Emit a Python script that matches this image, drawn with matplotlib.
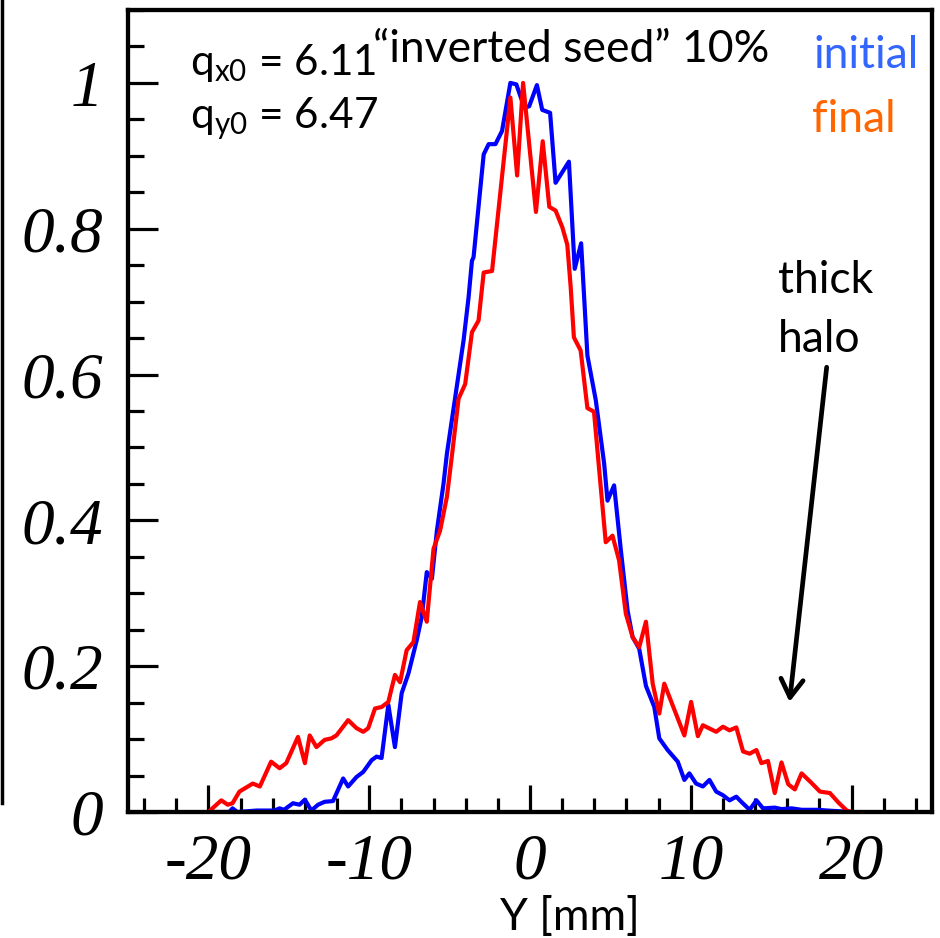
import numpy as np
import matplotlib.pyplot as plt
from matplotlib.lines import Line2D
from matplotlib.ticker import MultipleLocator, FormatStrFormatter
plt.rcParams.update({'font.size': 30})
plt.rcParams['axes.unicode_minus'] = False
plt.rcParams['mathtext.fontset'] = 'custom'
plt.rcParams['mathtext.rm'] = 'Lato'
plt.rcParams['mathtext.it'] = 'Lato'

# =============================================================================
# data (Y in mm, normalised intensity)
# =============================================================================
y_initial = [-20.0, -18.7, -18.5, -18.2, -17.0, -15.9, -15.57, -15.3, -14.74, -14.33,
             -14.0, -13.6, -13.18, -12.77, -12.25, -11.62, -11.31, -10.79, -10.37, -9.85,
             -9.54, -9.23, -8.81, -8.4, -7.98, -7.56, -7.04, -6.73, -6.42, -6.1,
             -5.79, -5.38, -5.17, -4.65, -4.13, -3.82, -3.61, -3.51, -2.88, -2.57,
             -2.15, -1.74, -1.22, -0.85, -0.35, -0.05, 0.43, 0.76, 1.25, 1.59,
             2.42, 2.78, 3.18, 3.57, 4.09, 4.61, 4.82, 5.23, 5.65, 6.07,
             6.38, 6.79, 7.21, 7.73, 8.04, 8.56, 9.19, 9.6, 9.91, 10.33,
             10.75, 11.16, 11.58, 12.0, 12.41, 12.83, 13.14, 13.66, 14.08, 14.49,
             15.22, 15.64, 16.27, 16.9, 17.9, 18.5, 20.0]
n_initial = [0.0, 0.0, 0.005, 0.0, 0.002, 0.002, 0.005, 0.003, 0.012, 0.010,
             0.017, 0.002, 0.010, 0.014, 0.015, 0.046, 0.035, 0.048, 0.055, 0.071,
             0.076, 0.074, 0.147, 0.089, 0.163, 0.190, 0.236, 0.268, 0.329, 0.320,
             0.386, 0.450, 0.491, 0.569, 0.647, 0.706, 0.756, 0.761, 0.902, 0.916,
             0.916, 0.934, 1.0, 0.998, 0.966, 0.968, 0.997, 0.963, 0.959, 0.863,
             0.892, 0.745, 0.780, 0.626, 0.565, 0.478, 0.427, 0.448, 0.359, 0.276,
             0.240, 0.224, 0.173, 0.144, 0.101, 0.085, 0.069, 0.044, 0.053, 0.039,
             0.035, 0.044, 0.028, 0.023, 0.016, 0.021, 0.014, 0.003, 0.016, 0.005,
             0.006, 0.004, 0.005, 0.003, 0.003, 0.002, 0.0]

y_final = [-20.0, -19.2, -18.8, -18.5, -18.07, -17.24, -16.8, -16.1, -15.57, -15.16,
           -14.43, -14.0, -13.7, -13.28, -12.77, -12.35, -12.04, -11.31, -10.79, -10.37,
           -10.06, -9.64, -9.23, -8.81, -8.4, -8.08, -7.67, -7.25, -6.84, -6.42,
           -6.0, -5.59, -5.17, -4.85, -4.44, -4.03, -3.61, -3.2, -2.88, -2.36,
           -1.22, -0.8, -0.43, 0.37, 0.79, 1.2, 1.59, 2.01, 2.32, 2.53,
           2.73, 3.15, 3.57, 3.98, 4.3, 4.71, 5.13, 5.54, 5.96, 6.38,
           6.79, 7.21, 7.63, 8.04, 8.35, 9.6, 10.02, 10.44, 10.75, 11.58,
           12.0, 12.41, 12.83, 13.25, 13.66, 14.08, 14.39, 14.8, 15.22, 15.64,
           16.06, 16.47, 16.89, 17.5, 18.03, 18.65, 19.18, 19.7, 20.0]
n_final = [0.0, 0.016, 0.010, 0.012, 0.028, 0.039, 0.035, 0.069, 0.060, 0.067,
           0.103, 0.067, 0.105, 0.089, 0.099, 0.101, 0.105, 0.126, 0.115, 0.110,
           0.115, 0.142, 0.144, 0.151, 0.188, 0.178, 0.222, 0.233, 0.288, 0.261,
           0.361, 0.386, 0.432, 0.490, 0.567, 0.587, 0.658, 0.674, 0.740, 0.742,
           0.980, 0.873, 1.0, 0.823, 0.920, 0.830, 0.825, 0.802, 0.778, 0.720,
           0.651, 0.633, 0.554, 0.549, 0.470, 0.370, 0.379, 0.345, 0.272, 0.240,
           0.226, 0.261, 0.176, 0.135, 0.176, 0.105, 0.151, 0.104, 0.119, 0.110,
           0.117, 0.112, 0.116, 0.083, 0.080, 0.085, 0.067, 0.070, 0.026, 0.068,
           0.038, 0.031, 0.053, 0.040, 0.028, 0.026, 0.013, 0.002, 0.0]

W, H = 940, 938
fig = plt.figure(figsize=(W/100, H/100), dpi=100)
ax = fig.add_axes([128/W, 1-812/H, (932-128)/W, (812-10)/H])

ax.plot(y_initial, n_initial, color='#0000ff', lw=3.0)
ax.plot(y_final, n_final, color='#ff0000', lw=3.0)

ax.set_xlim(-25, 25)
ax.set_ylim(0, 1.1)
ax.xaxis.set_major_locator(MultipleLocator(10))
ax.xaxis.set_minor_locator(MultipleLocator(2))
ax.yaxis.set_major_locator(MultipleLocator(0.2))
ax.yaxis.set_minor_locator(MultipleLocator(0.05))
ax.yaxis.set_major_formatter(FormatStrFormatter('%g'))
ax.xaxis.set_major_formatter(FormatStrFormatter('%g'))
ax.tick_params(which='both', direction='in', width=2.3, color='black',
               top=False, right=False)
ax.tick_params(axis='y', which='major', length=21.5, pad=18)
ax.tick_params(axis='y', which='minor', length=11.5)
ax.tick_params(axis='x', which='major', length=19.5, pad=15)
ax.tick_params(axis='x', which='minor', length=10)
for lab in ax.get_xticklabels() + ax.get_yticklabels():
    lab.set_fontfamily('Liberation Serif')
    lab.set_fontstyle('italic')
    lab.set_fontsize(47)
for sp in ax.spines.values():
    sp.set_linewidth(3.1)

# annotations
txt = dict(family='Lato', fontsize=32, va='baseline', ha='left')
qtxt = dict(txt, fontsize=30.5)
fig.text(190/W, 1-75/H, r'q$_{\mathrm{x0}}$ = 6.11', **qtxt)
fig.text(190/W, 1-128/H, r'q$_{\mathrm{y0}}$ = 6.47', **qtxt)
fig.text(373/W, 1-62/H, '\u201cinverted seed\u201d 10%', **txt)
fig.text(813/W, 1-68/H, 'initial', color='#3366ff', **txt)
fig.text(812/W, 1-132/H, 'final', color='#ff6600', **txt)
fig.text(778/W, 1-293/H, 'thick', **txt)
fig.text(778/W, 1-352/H, 'halo', **txt)
fig.text(570/W, 1-930/H, 'Y [mm]', family='Lato', fontsize=32, va='baseline', ha='center')

ax.annotate('', xy=(16.14, 0.151), xytext=(18.45, 0.61),
            arrowprops=dict(arrowstyle='->,head_length=0.65,head_width=0.4',
                            mutation_scale=20, lw=3.4, color='black',
                            shrinkA=0, shrinkB=0))

# cut-off frame of the neighbouring panel on the left edge
fig.add_artist(Line2D([2/W, 2/W], [1-803/H, 1], transform=fig.transFigure,
                      color='black', lw=2.5))

fig.savefig('out.png', dpi=100)
